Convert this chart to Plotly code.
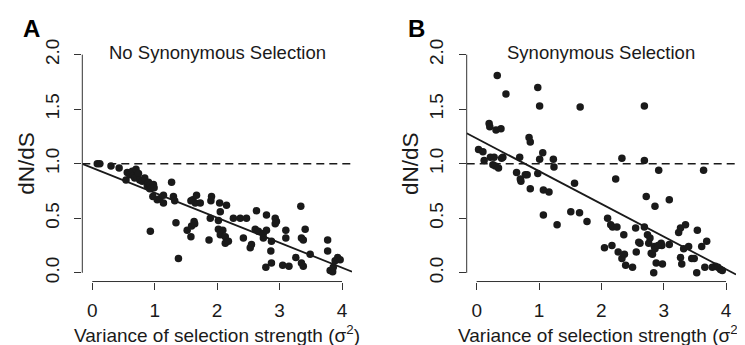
import plotly.graph_objects as go

# ---------------- data ----------------
a_x = [0.08, 0.12, 0.30, 0.43, 0.54, 0.56, 0.60, 0.64, 0.66, 0.70, 0.68, 0.72, 0.74, 0.76,
       0.80, 0.84, 0.88, 0.90, 0.92, 0.93, 0.95, 0.98, 0.99, 0.97, 0.93, 1.04, 1.08, 1.14,
       1.14, 1.27, 1.30, 1.32, 1.34, 1.38, 1.52, 1.58, 1.59, 1.63, 1.64, 1.61, 1.65, 1.58,
       1.67, 1.73, 1.87, 1.89, 1.90, 1.91, 2.02, 2.04, 2.05, 2.02, 2.05, 2.09, 2.13, 2.13,
       2.15, 2.18, 2.26, 2.37, 2.42, 2.47, 2.53, 2.55, 2.63, 2.61, 2.66, 2.74, 2.74, 2.78,
       2.79, 2.79, 2.86, 2.87, 2.87, 2.93, 2.93, 2.95, 3.05, 3.10, 3.10, 3.15, 3.26, 3.34,
       3.35, 3.38, 3.35, 3.38, 3.41, 3.49, 3.77, 3.77, 3.81, 3.85, 3.86, 3.89, 3.93, 3.97]
a_y = [1.00, 1.00, 0.98, 0.96, 0.85, 0.92, 0.90, 0.93, 0.89, 0.95, 0.87, 0.88, 0.91, 0.85,
       0.84, 0.87, 0.80, 0.83, 0.77, 0.81, 0.78, 0.81, 0.78, 0.70, 0.38, 0.67, 0.68, 0.71,
       0.64, 0.83, 0.70, 0.66, 0.46, 0.13, 0.39, 0.33, 0.43, 0.47, 0.45, 0.67, 0.64, 0.66,
       0.71, 0.64, 0.30, 0.50, 0.66, 0.70, 0.48, 0.64, 0.56, 0.40, 0.35, 0.39, 0.33, 0.27,
       0.62, 0.29, 0.50, 0.50, 0.32, 0.50, 0.23, 0.26, 0.57, 0.40, 0.38, 0.36, 0.32, 0.05,
       0.39, 0.53, 0.20, 0.29, 0.09, 0.50, 0.45, 0.47, 0.07, 0.39, 0.32, 0.06, 0.14, 0.61,
       0.32, 0.30, 0.09, 0.06, 0.40, 0.17, 0.30, 0.20, 0.02, 0.01, 0.05, 0.11, 0.14, 0.12]

b_x = [0.03, 0.10, 0.12, 0.20, 0.21, 0.22, 0.26, 0.28, 0.30, 0.31, 0.33, 0.35, 0.39, 0.40,
       0.42, 0.47, 0.64, 0.69, 0.70, 0.71, 0.78, 0.81, 0.84, 0.86, 0.86, 0.98, 0.98, 1.01,
       1.01, 1.06, 1.07, 1.07, 1.16, 1.23, 1.24, 1.29, 1.57, 1.51, 1.65, 1.66, 1.77, 2.05,
       2.10, 2.15, 2.17, 2.18, 2.25, 2.23, 2.27, 2.33, 2.33, 2.36, 2.37, 2.39, 2.50, 2.55,
       2.56, 2.62, 2.69, 2.69, 2.69, 2.72, 2.74, 2.76, 2.78, 2.80, 2.82, 2.84, 2.85, 2.86,
       2.86, 2.88, 2.92, 2.96, 2.97, 2.98, 3.09, 3.09, 3.24, 3.27, 3.27, 3.29, 3.32, 3.35,
       3.40, 3.45, 3.49, 3.53, 3.54, 3.61, 3.64, 3.66, 3.69, 3.78, 3.83, 3.87, 3.91, 3.94,
       2.60, 2.91]
b_y = [1.13, 1.11, 1.03, 1.37, 1.34, 1.06, 0.99, 1.06, 0.98, 1.31, 1.81, 0.96, 1.32, 1.05,
       1.06, 1.64, 0.92, 1.06, 0.86, 0.84, 0.90, 0.90, 1.24, 1.20, 0.77, 1.70, 0.91, 1.53,
       1.04, 1.10, 0.76, 0.53, 0.74, 1.04, 0.97, 0.44, 0.82, 0.56, 0.55, 1.52, 0.47, 0.23,
       0.50, 0.44, 0.25, 0.42, 0.42, 0.86, 0.19, 1.05, 0.13, 0.35, 0.17, 0.07, 0.05, 0.41,
       0.19, 0.27, 1.53, 1.03, 0.42, 0.70, 0.35, 0.27, 0.32, 0.18, 0.17, 0.00, 0.24, 0.61,
       0.22, 0.09, 0.94, 0.27, 0.25, 0.08, 0.26, 0.67, 0.37, 0.41, 0.14, 0.08, 0.22, 0.44,
       0.24, 0.13, 0.13, 0.00, 0.39, 0.24, 0.94, 0.05, 0.29, 0.05, 0.06, 0.05, 0.03, 0.02,
       0.28, 0.25]

# regression fits (intercept, slope)
fit_a = (0.963, -0.229)
fit_b = (1.232, -0.300)

x_ticks = [0, 1, 2, 3, 4]
y_ticks = [0.0, 0.5, 1.0, 1.5, 2.0]
y_ticktext = ["0.0", "0.5", "1.0", "1.5", "2.0"]
panel_titles = ["No Synonymous Selection", "Synonymous Selection"]
panel_letters = ["A", "B"]
x_label = "Variance of selection strength (σ<sup>2</sup>)"
y_label = "dN/dS"

# ---------------- layout constants ----------------
# the page body adds an 8px margin, so the figure is drawn 8px in from the window corner
OFF = 8
W, H = 745 - OFF, 345 - OFF
XR = [-0.16, 4.16]
YR = [-0.08, 2.08]
FONT = "Liberation Sans, Arial, Helvetica, sans-serif"
INK = "#1a1a1a"


def px(xw):
    return (xw - OFF) / W


def py(yw):
    return (H - (yw - OFF)) / H


panels = [
    dict(left=82.3, right=352.0),
    dict(left=466.7, right=736.0),
]
plot_top, plot_bot = 39.7, 281.0

fig = go.Figure()

data = [(a_x, a_y, fit_a), (b_x, b_y, fit_b)]
for i, (xs, ys, fit) in enumerate(data):
    xa, ya = ("x", "y") if i == 0 else ("x2", "y2")
    fig.add_trace(go.Scatter(x=XR, y=[1, 1], mode="lines", xaxis=xa, yaxis=ya,
                             line=dict(color=INK, width=1.5, dash="8px,5px"),
                             hoverinfo="skip", showlegend=False))
    fig.add_trace(go.Scatter(x=XR, y=[fit[0] + fit[1] * XR[0], fit[0] + fit[1] * XR[1]],
                             mode="lines", xaxis=xa, yaxis=ya,
                             line=dict(color=INK, width=1.8),
                             hoverinfo="skip", showlegend=False))
    fig.add_trace(go.Scatter(x=xs, y=ys, mode="markers", xaxis=xa, yaxis=ya,
                             marker=dict(color=INK, size=7.5, line=dict(width=0)),
                             showlegend=False))

ydom = [py(plot_bot), py(plot_top)]
axis_common = dict(showgrid=False, zeroline=False, showline=False, ticks="outside",
                   ticklen=7, tickwidth=1, tickcolor="#333",
                   tickfont=dict(family=FONT, size=19, color=INK))
layout_axes = {}
for i, p in enumerate(panels):
    sfx = "" if i == 0 else "2"
    layout_axes["xaxis" + sfx] = dict(axis_common, domain=[px(p["left"]), px(p["right"])],
                                      range=XR, tickvals=x_ticks, anchor="y" + sfx,
                                      ticklabelstandoff=5)
    layout_axes["yaxis" + sfx] = dict(axis_common, domain=ydom, range=YR,
                                      tickvals=y_ticks, ticktext=y_ticktext,
                                      tickangle=-90, anchor="x" + sfx,
                                      ticklabelstandoff=8)

fig.update_layout(width=W, height=H, margin=dict(l=0, r=0, t=0, b=0),
                  paper_bgcolor="white", plot_bgcolor="white",
                  font=dict(family=FONT, color=INK), **layout_axes)

shapes = []
annotations = []
for i, p in enumerate(panels):
    sfx = "" if i == 0 else "2"
    shapes.append(dict(type="line", xref="x" + sfx, yref="y" + sfx + " domain",
                       x0=0, x1=4, y0=0, y1=0, line=dict(color="#333", width=1)))
    shapes.append(dict(type="line", xref="x" + sfx + " domain", yref="y" + sfx,
                       x0=0, x1=0, y0=0, y1=2, line=dict(color="#333", width=1)))
    annotations.append(dict(text=panel_titles[i], xref="x" + sfx, yref="paper",
                            x=2, y=py(46.5), xanchor="center", yanchor="middle",
                            showarrow=False, font=dict(family=FONT, size=18.5, color=INK)))
    annotations.append(dict(text="<b>%s</b>" % panel_letters[i], xref="paper", yref="paper",
                            x=px(p["left"] - 50.7), y=py(21.5),
                            xanchor="center", yanchor="middle", showarrow=False,
                            font=dict(family=FONT, size=24, color="black")))
    annotations.append(dict(text=y_label, xref="paper", yref="paper",
                            x=px(p["left"] - 56), y=py(160), textangle=-90,
                            xanchor="center", yanchor="middle", showarrow=False,
                            font=dict(family=FONT, size=22.5, color=INK)))
    annotations.append(dict(text=x_label, xref="x" + sfx, yref="paper",
                            x=2, y=py(335), xanchor="center", yanchor="middle",
                            showarrow=False, font=dict(family=FONT, size=19, color=INK)))

fig.update_layout(shapes=shapes, annotations=annotations)
fig.write_html("out.html")
